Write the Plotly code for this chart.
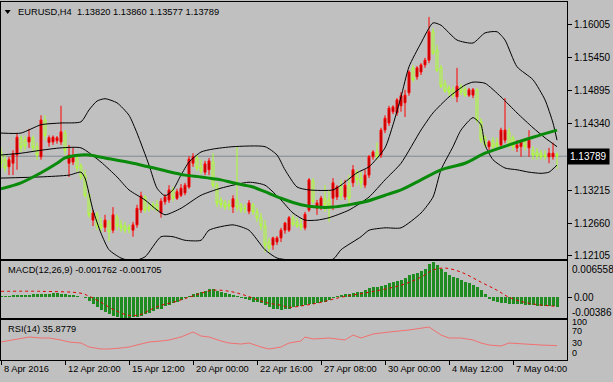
import plotly.graph_objects as go

# ---------------- data ----------------
bar_index = list(range(140))
opens = [1.1386,1.1373,1.1361,1.1367,1.1381,1.1410,1.1406,1.1403,1.1410,1.1395,
         1.1378,1.1440,1.1402,1.1403,1.1405,1.1403,1.1418,1.1367,1.1369,1.1376,
         1.1362,1.1347,1.1313,1.1271,1.1281,1.1264,1.1259,1.1268,1.1254,1.1276,
         1.1263,1.1261,1.1258,1.1254,1.1263,1.1288,1.1310,1.1293,1.1297,1.1297,
         1.1283,1.1302,1.1305,1.1322,1.1308,1.1313,1.1317,1.1327,1.1367,1.1376,
         1.1362,1.1352,1.1356,1.1369,1.1330,1.1305,1.1300,1.1297,1.1293,1.1305,
         1.1297,1.1291,1.1286,1.1297,1.1285,1.1275,1.1261,1.1234,1.1229,1.1234,
         1.1241,1.1254,1.1254,1.1275,1.1268,1.1264,1.1258,1.1288,1.1337,1.1291,
         1.1293,1.1308,1.1305,1.1308,1.1310,1.1327,1.1310,1.1330,1.1334,1.1352,
         1.1342,1.1330,1.1347,1.1378,1.1386,1.1381,1.1423,1.1435,1.1454,1.1452,
         1.1464,1.1469,1.1486,1.1528,1.1513,1.1521,1.1533,1.1541,1.1589,1.1558,
         1.1528,1.1501,1.1494,1.1491,1.1479,1.1496,1.1492,1.1482,1.1482,1.1491,
         1.1437,1.1410,1.1395,1.1405,1.1401,1.1398,1.1406,1.1420,1.1410,1.1393,
         1.1395,1.1403,1.1393,1.1389,1.1386,1.1384,1.1381,1.1378,1.1378,1.13820]
highs = [1.1393,1.1381,1.1378,1.1389,1.1418,1.1414,1.1413,1.1425,1.1414,1.1402,
         1.1448,1.1448,1.1414,1.1414,1.1413,1.1464,1.1423,1.1398,1.1393,1.1381,
         1.1367,1.1356,1.1317,1.1288,1.1285,1.1275,1.1280,1.1271,1.1293,1.1281,
         1.1271,1.1268,1.1264,1.1268,1.1297,1.1319,1.1313,1.1302,1.1302,1.1305,
         1.1308,1.1315,1.1330,1.1327,1.1324,1.1332,1.1334,1.1379,1.1384,1.1381,
         1.1373,1.1371,1.1376,1.1384,1.1335,1.1310,1.1305,1.1305,1.1313,1.1395,
         1.1300,1.1298,1.1305,1.1300,1.1291,1.1283,1.1271,1.1241,1.1243,1.1244,
         1.1258,1.1268,1.1278,1.1280,1.1275,1.1273,1.1285,1.1342,1.1342,1.1305,
         1.1312,1.1330,1.1322,1.1342,1.1330,1.1339,1.1339,1.1347,1.1364,1.1356,
         1.1352,1.1356,1.1381,1.1389,1.1402,1.1427,1.1448,1.1464,1.1465,1.1477,
         1.1487,1.1491,1.1524,1.1533,1.1531,1.1536,1.1545,1.1614,1.1595,1.1567,
         1.1533,1.1508,1.1499,1.1496,1.1528,1.1501,1.1497,1.1494,1.1494,1.1494,
         1.1443,1.1414,1.1406,1.1411,1.1410,1.1427,1.1477,1.1427,1.1414,1.1406,
         1.1406,1.1410,1.1423,1.1396,1.1393,1.1389,1.1389,1.1393,1.1402,1.13860]
lows = [1.1359,1.1352,1.1347,1.1347,1.1356,1.1386,1.1389,1.1393,1.1386,1.1373,
        1.1373,1.1406,1.1395,1.1398,1.1400,1.1398,1.1381,1.1344,1.1364,1.1352,
        1.1339,1.1308,1.1275,1.1261,1.1254,1.1251,1.1251,1.1236,1.1249,1.1254,
        1.1251,1.1249,1.1249,1.1243,1.1258,1.1283,1.1283,1.1285,1.1288,1.1285,
        1.1275,1.1297,1.1300,1.1303,1.1305,1.1310,1.1313,1.1324,1.1361,1.1354,
        1.1349,1.1347,1.1347,1.1325,1.1293,1.1291,1.1288,1.1288,1.1283,1.1286,
        1.1283,1.1283,1.1281,1.1280,1.1268,1.1254,1.1217,1.1216,1.1221,1.1229,
        1.1234,1.1248,1.1251,1.1261,1.1258,1.1254,1.1254,1.1285,1.1298,1.1280,
        1.1288,1.1285,1.1268,1.1288,1.1305,1.1305,1.1305,1.1297,1.1327,1.1330,
        1.1325,1.1325,1.1342,1.1373,1.1373,1.1376,1.1418,1.1430,1.1450,1.1447,
        1.1454,1.1445,1.1481,1.1504,1.1508,1.1516,1.1528,1.1536,1.1550,1.1521,
        1.1494,1.1486,1.1481,1.1477,1.1470,1.1482,1.1479,1.1479,1.1477,1.1435,
        1.1401,1.1393,1.1389,1.1389,1.1389,1.1393,1.1401,1.1393,1.1389,1.1386,
        1.1378,1.1389,1.1378,1.1373,1.1373,1.1373,1.1373,1.1367,1.1373,1.13577]
closes = [1.1367,1.1359,1.1373,1.1383,1.1411,1.1393,1.1396,1.1411,1.1393,1.1381,
          1.1440,1.1414,1.1410,1.1411,1.1410,1.1420,1.1389,1.1381,1.1378,1.1359,
          1.1344,1.1313,1.1280,1.1283,1.1261,1.1258,1.1271,1.1251,1.1280,1.1261,
          1.1258,1.1254,1.1256,1.1263,1.1291,1.1312,1.1288,1.1290,1.1293,1.1288,
          1.1303,1.1310,1.1322,1.1308,1.1319,1.1325,1.1330,1.1374,1.1378,1.1359,
          1.1354,1.1366,1.1371,1.1330,1.1300,1.1297,1.1293,1.1295,1.1307,1.1293,
          1.1288,1.1290,1.1300,1.1285,1.1275,1.1261,1.1229,1.1224,1.1241,1.1241,
          1.1254,1.1266,1.1275,1.1264,1.1261,1.1259,1.1281,1.1339,1.1302,1.1300,
          1.1308,1.1297,1.1295,1.1334,1.1327,1.1313,1.1330,1.1308,1.1356,1.1339,
          1.1334,1.1347,1.1378,1.1386,1.1378,1.1423,1.1443,1.1460,1.1462,1.1474,
          1.1481,1.1482,1.1521,1.1508,1.1528,1.1533,1.1541,1.1589,1.1553,1.1524,
          1.1497,1.1489,1.1487,1.1482,1.1497,1.1487,1.1482,1.1491,1.1491,1.1440,
          1.1406,1.1398,1.1403,1.1395,1.1396,1.1423,1.1423,1.1398,1.1395,1.1398,
          1.1403,1.1395,1.1406,1.1381,1.1379,1.1378,1.1378,1.1384,1.1384,1.13789]

bb_up_idx = [0,5,10,15,20,22,24,26,29,32,34,37,39,41,43,45,47,50,53,58,66,69,71,74,77,83,85,89,92,96,98,100,102,105,108,110,114,118,121,124,126,129,133,136,138,139]
bb_upper = [1.1418,1.1418,1.1432,1.1435,1.1437,1.1457,1.1472,1.1476,1.1469,1.1448,1.1418,1.1364,1.1325,1.1312,1.1322,1.1347,1.1369,1.1386,1.1391,1.1395,1.1395,1.1381,1.1356,1.1327,1.1322,1.1322,1.1330,1.1351,1.1361,1.1393,1.1432,1.1479,1.1530,1.1570,1.1604,1.1600,1.1575,1.1570,1.1587,1.1589,1.1575,1.1530,1.1508,1.1474,1.1435,1.1406]
bb_mid_idx = [0,5,10,15,20,25,29,32,36,39,41,45,50,55,62,66,70,73,76,79,82,87,92,96,100,105,108,112,116,118,121,125,129,133,136,139]
bb_middle = [1.1381,1.1384,1.1389,1.1393,1.1393,1.1369,1.1344,1.1322,1.1305,1.1288,1.1280,1.1291,1.1313,1.1325,1.1335,1.1330,1.1305,1.1283,1.1271,1.1271,1.1275,1.1288,1.1310,1.1339,1.1367,1.1423,1.1452,1.1479,1.1499,1.1504,1.1502,1.1479,1.1452,1.1427,1.1410,1.1395]
bb_low_idx = [0,10,17,20,21,23,25,27,30,33,36,40,43,46,50,52,58,62,66,69,72,83,85,90,92,96,100,105,108,110,113,115,118,120,121,123,126,129,132,135,137,139]
bb_lower = [1.1342,1.1344,1.1347,1.1352,1.1342,1.1288,1.1249,1.1221,1.1207,1.1202,1.1209,1.1243,1.1243,1.1237,1.1237,1.1254,1.1263,1.1254,1.1221,1.1207,1.1204,1.1205,1.1221,1.1243,1.1254,1.1258,1.1258,1.1283,1.1310,1.1356,1.1395,1.1423,1.1444,1.1432,1.1398,1.1373,1.1359,1.1356,1.1352,1.1350,1.1352,1.1364]

ma_idx = [0,5,10,14,16,20,22,26,33,40,46,50,55,58,63,66,70,75,79,83,87,91,96,100,105,110,116,121,127,133,139]
ma_values = [1.1324,1.1334,1.1351,1.1367,1.1376,1.1381,1.1381,1.1376,1.1367,1.1356,1.1347,1.1344,1.1339,1.1334,1.1327,1.1319,1.1308,1.1297,1.1293,1.1293,1.1297,1.1302,1.1313,1.1322,1.1339,1.1356,1.1367,1.1384,1.1398,1.1411,1.1423]

macd_main = [0.0002,0.0002,0.0002,0.0004,0.0004,0.0004,0.0004,0.0004,0.0006,0.0006,
             0.0006,0.0007,0.0007,0.0008,0.0008,0.0007,0.0006,0.0005,0.0004,0.0002,
             0.0001,-0.0002,-0.0007,-0.0013,-0.0019,-0.0024,-0.0028,-0.0032,-0.0034,-0.0036,
             -0.00386,-0.00386,-0.0038,-0.0037,-0.0036,-0.0034,-0.0032,-0.0030,-0.0026,-0.0022,
             -0.0021,-0.0017,-0.0015,-0.0011,-0.0009,-0.0006,-0.0002,0.0002,0.0006,0.0008,
             0.0009,0.0011,0.0015,0.0015,0.0012,0.0009,0.0008,0.0006,0.0004,0.0002,
             -0.0002,-0.0004,-0.0006,-0.0008,-0.0009,-0.0011,-0.0015,-0.0019,-0.0021,-0.0022,
             -0.0023,-0.0022,-0.0021,-0.0019,-0.0017,-0.0017,-0.0015,-0.0013,-0.0013,-0.0011,
             -0.0009,-0.0008,-0.0006,-0.0002,0.0002,0.0005,0.0006,0.0007,0.0008,0.0009,
             0.0010,0.0013,0.0017,0.0019,0.0019,0.0021,0.0022,0.0026,0.0028,0.0030,
             0.0032,0.0036,0.0041,0.0043,0.0045,0.0049,0.0052,0.0062,0.006558,0.0060,
             0.0052,0.0047,0.0041,0.0037,0.0036,0.0032,0.0028,0.0026,0.0022,0.0019,
             0.0013,0.0006,-0.0004,-0.0007,-0.0009,-0.0011,-0.0011,-0.0013,-0.0013,-0.0013,
             -0.0013,-0.0015,-0.0015,-0.0015,-0.0017,-0.0017,-0.0017,-0.0017,-0.0017,-0.001762]
signal_idx = [0,10,20,22,25,28,32,35,37,40,43,47,50,53,57,61,66,70,72,76,80,85,92,100,105,108,111,115,120,124,127,132,139]
signal_values = [0.0011,0.0011,0.00075,0.0002,-0.00094,-0.00225,-0.00337,-0.00319,-0.00244,-0.0015,-0.00094,0.0,0.00075,0.00131,0.00112,0.00037,-0.00094,-0.0015,-0.00187,-0.0015,-0.00094,0.0,0.00094,0.00225,0.00375,0.00506,0.00543,0.00468,0.00281,0.00131,0.0,-0.00112,-0.001705]

rsi_idx = [0,7,10,12,15,17,20,22,25,27,30,32,35,37,40,42,45,48,50,52,55,57,60,62,65,67,70,72,75,76,78,82,86,88,90,93,97,102,107,110,112,115,118,120,122,125,127,130,135,139]
rsi_values = [45,57.5,55,55,50,45,42.5,32.5,27.5,27.5,30,32.5,40,45,47.5,50,57.5,70,60,57.5,47.5,42.5,40,42.5,32.5,27.5,32.5,42.5,47.5,57.5,52.5,55,50,62.5,55,65,70,75,82.5,62.5,55,55,50,42.5,37.5,35,42.5,40,37.5,35.8779]

price_ticks = [1.16005, 1.15450, 1.14895, 1.14340, 1.13215, 1.12660, 1.12105]
macd_scale_labels = ["0.006558", "0.00", "-0.00386"]
rsi_scale_labels = ["100", "70", "30", "0"]
time_tick_idx = [0, 16, 32, 48, 64, 80, 96, 112, 128]
time_tick_labels = ["8 Apr 2016", "12 Apr 20:00", "15 Apr 12:00", "20 Apr 00:00", "22 Apr 16:00",
                    "27 Apr 08:00", "30 Apr 00:00", "4 May 12:00", "7 May 04:00"]
last_price = 1.13789
title_text = "EURUSD,H4  1.13820 1.13860 1.13577 1.13789"
macd_text = "MACD(12,26,9) -0.001762 -0.001705"
rsi_text = "RSI(14) 35.8779"

# ---------------- figure ----------------
W, H = 613, 382
ML, MR, MT, MB = 1, 46, 2, 22
PH = H - MT - MB


def px_x(p):
    return (p - ML) / (W - ML - MR)


def px_y(p):
    return (H - MB - p) / PH


FONT = "Liberation Sans, Arial, sans-serif"
BG = "#c0c0c0"

fig = go.Figure()

fig.add_trace(go.Candlestick(
    x=bar_index, open=opens, high=highs, low=lows, close=closes,
    xaxis="x", yaxis="y", whiskerwidth=0,
    increasing=dict(line=dict(color="#ff0000", width=1), fillcolor="#a00000"),
    decreasing=dict(line=dict(color="#adff2f", width=1), fillcolor=BG),
    hoverinfo="skip"))

for xs, ys in ((bb_up_idx, bb_upper), (bb_mid_idx, bb_middle), (bb_low_idx, bb_lower)):
    fig.add_trace(go.Scatter(x=xs, y=ys, mode="lines", xaxis="x", yaxis="y",
                             line=dict(color="#000000", width=1, shape="spline", smoothing=0.6),
                             hoverinfo="skip"))

fig.add_trace(go.Scatter(x=ma_idx, y=ma_values, mode="lines", xaxis="x", yaxis="y",
                         line=dict(color="#0a8a0a", width=3, shape="spline", smoothing=0.8),
                         hoverinfo="skip"))

fig.add_trace(go.Bar(x=bar_index, y=macd_main, xaxis="x2", yaxis="y2", width=0.75,
                     marker=dict(color="#1e8c1e", line=dict(width=0)), hoverinfo="skip"))
fig.add_trace(go.Scatter(x=signal_idx, y=signal_values, mode="lines", xaxis="x2", yaxis="y2",
                         line=dict(color="#e00000", width=1, dash="dot", shape="spline"),
                         hoverinfo="skip"))

fig.add_trace(go.Scatter(x=rsi_idx, y=rsi_values, mode="lines", xaxis="x3", yaxis="y3",
                         line=dict(color="#f07070", width=1), hoverinfo="skip"))

xr = [0, (W - ML - MR) / 4.0]
common_x = dict(range=xr, showgrid=False, zeroline=False, showline=True, mirror=True,
                linecolor="#000000", linewidth=1, showticklabels=False, fixedrange=True)
common_y = dict(showgrid=False, zeroline=False, showline=True, mirror=True, side="right",
                linecolor="#000000", linewidth=1, fixedrange=True,
                tickfont=dict(family=FONT, size=10, color="#000000"))

d_main = [px_y(259), 1.0]
d_macd = [px_y(318), px_y(261)]
d_rsi = [0.0, px_y(320)]

fig.update_layout(
    width=W, height=H, margin=dict(l=ML, r=MR, t=MT, b=MB),
    paper_bgcolor=BG, plot_bgcolor=BG, showlegend=False, bargap=0,
    xaxis=dict(common_x, anchor="y", rangeslider=dict(visible=False)),
    xaxis2=dict(common_x, anchor="y2", matches="x"),
    xaxis3=dict(common_x, anchor="y3", matches="x", ticks="outside", ticklen=4,
                tickcolor="#000000", tickvals=time_tick_idx),
    yaxis=dict(common_y, domain=d_main, range=[1.16426 - 0.0001688 * 259, 1.16426 - 0.0001688 * 2],
               tickvals=price_ticks, ticktext=["%.5f" % v for v in price_ticks],
               ticks="outside", ticklen=4, tickcolor="#000000", anchor="x"),
    yaxis2=dict(common_y, domain=d_macd, range=[-0.00386, 0.00675], tickvals=[0],
                ticktext=[macd_scale_labels[1]], ticks="outside", ticklen=4,
                tickcolor="#000000", anchor="x2"),
    yaxis3=dict(common_y, domain=d_rsi, range=[0, 100], tickvals=[], anchor="x3"),
)

anns = []
txt = dict(family=FONT, size=9.3, color="#000000")
anns.append(dict(text=title_text, xref="paper", yref="paper", x=px_x(16), y=px_y(12),
                 xanchor="left", yanchor="middle", showarrow=False, font=txt))
anns.append(dict(text=macd_text, xref="paper", yref="paper", x=px_x(6), y=px_y(270),
                 xanchor="left", yanchor="middle", showarrow=False, font=txt))
anns.append(dict(text=rsi_text, xref="paper", yref="paper", x=px_x(6), y=px_y(329),
                 xanchor="left", yanchor="middle", showarrow=False, font=txt))
for lbl, py in ((macd_scale_labels[0], 269), (macd_scale_labels[2], 312.5)):
    anns.append(dict(text=lbl, xref="paper", yref="paper", x=1, y=px_y(py), xshift=3,
                     xanchor="left", yanchor="middle", showarrow=False,
                     font=dict(family=FONT, size=10, color="#000000")))
for lbl, py in zip(rsi_scale_labels, (321.5, 330.5, 343, 352.5)):
    anns.append(dict(text=lbl, xref="paper", yref="paper", x=1, y=px_y(py), xshift=3,
                     xanchor="left", yanchor="middle", showarrow=False,
                     font=dict(family=FONT, size=9, color="#000000")))
for ti, tl in zip(time_tick_idx, time_tick_labels):
    anns.append(dict(text=tl, xref="x3", yref="paper", x=ti, y=px_y(368.5), xshift=1,
                     xanchor="left", yanchor="middle", showarrow=False, font=txt))
anns.append(dict(text=f"{last_price:.5f}", xref="paper", yref="y", x=1, y=last_price,
                 xanchor="left", yanchor="middle", showarrow=False, bgcolor="#000000",
                 borderpad=2, font=dict(family=FONT, size=10, color="#ffffff")))
fig.update_layout(annotations=anns)

fig.add_shape(type="line", xref="x domain", yref="y", x0=0, x1=1, y0=last_price, y1=last_price,
              line=dict(color="#808890", width=1), layer="below")
fig.add_shape(type="path", xref="paper", yref="paper",
              path=f"M {px_x(4.7)},{px_y(10)} L {px_x(10.7)},{px_y(10)} L {px_x(7.7)},{px_y(14)} Z",
              fillcolor="#000000", line=dict(width=0))

fig.write_html("out.html", config={"displayModeBar": False, "staticPlot": True},
               post_script="document.body.style.margin='0px';document.body.style.padding='0px';")
